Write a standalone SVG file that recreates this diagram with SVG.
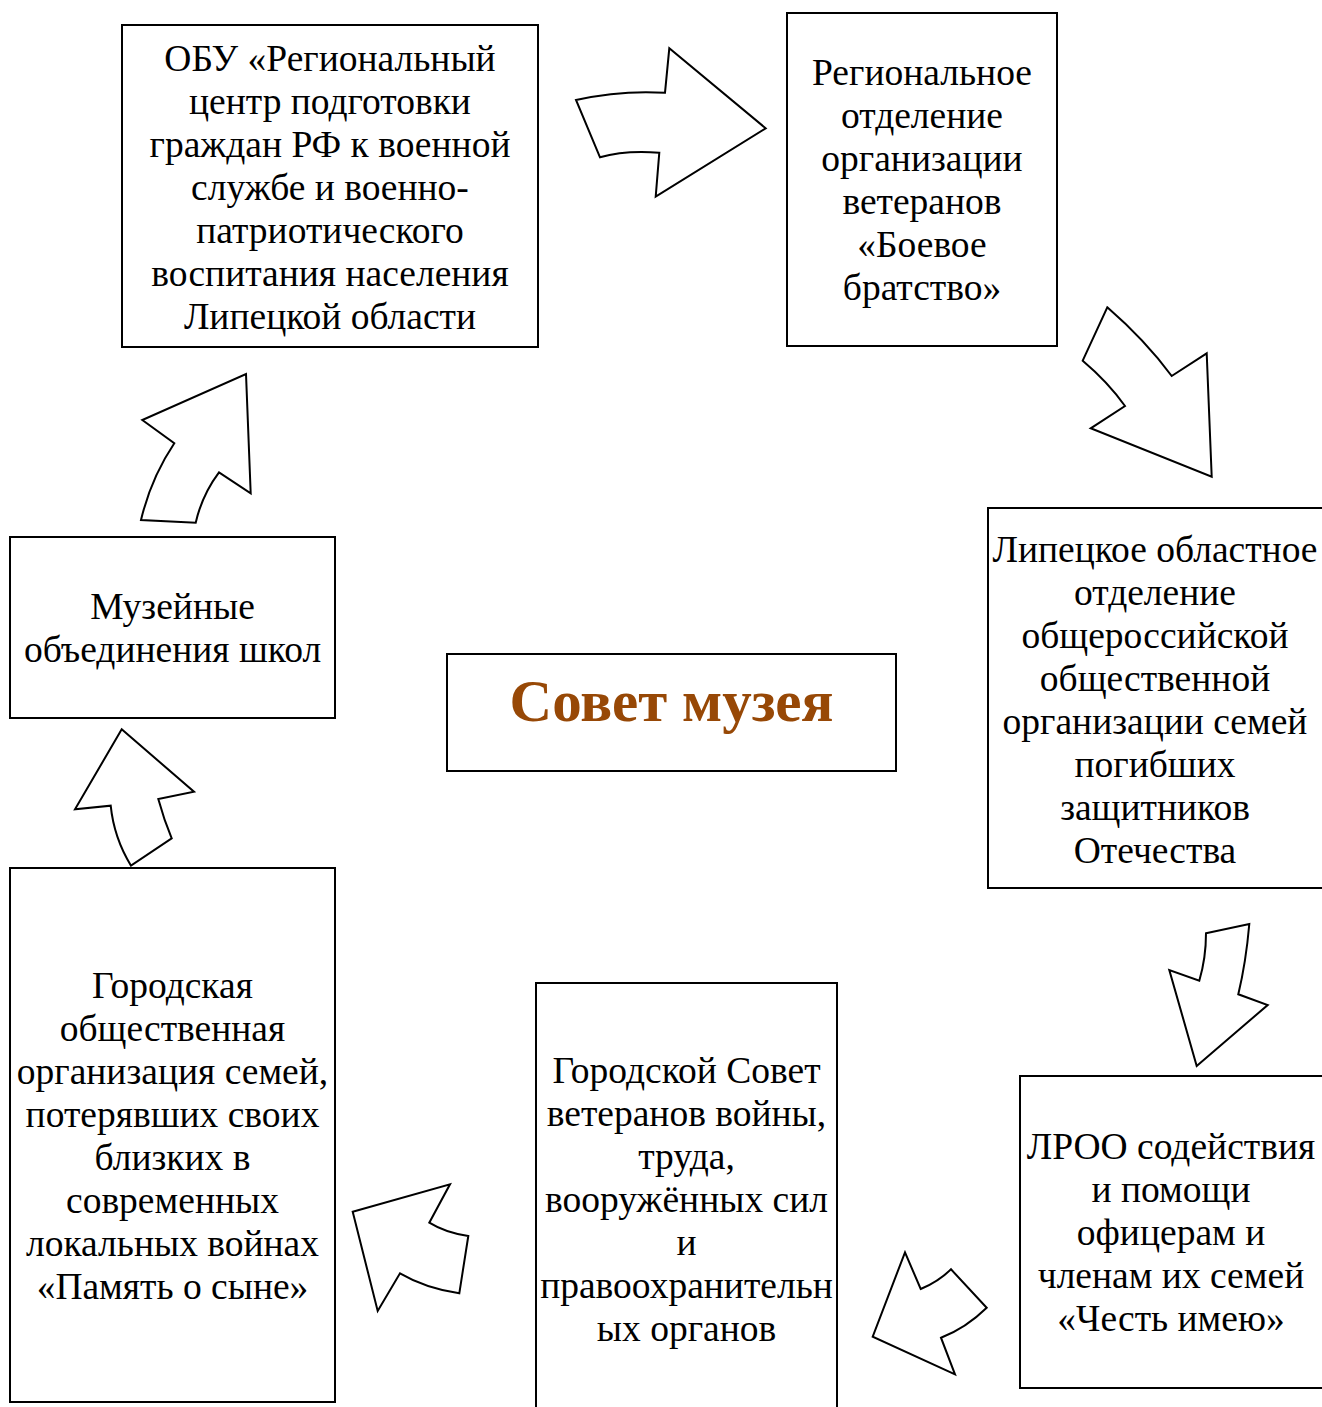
<svg xmlns="http://www.w3.org/2000/svg" width="1322" height="1407" viewBox="0 0 1322 1407">
<style>
.box{fill:#fff;stroke:#000;stroke-width:2}
.t{font-family:"Liberation Serif","Times New Roman",serif;font-size:37.5px;fill:#000;text-anchor:middle}
.title{font-family:"Liberation Serif","Times New Roman",serif;font-size:59px;font-weight:bold;fill:#974806;text-anchor:middle}
.arr{fill:#fff;stroke:#000;stroke-width:2;stroke-linejoin:miter}
</style>
<rect width="1322" height="1407" fill="#fff"/>
<g id="n1">
<rect class="box" x="122" y="25" width="416" height="322"/>
<text class="t"><tspan x="330" y="71">ОБУ «Региональный</tspan><tspan x="330" y="114">центр подготовки</tspan><tspan x="330" y="157">граждан РФ к военной</tspan><tspan x="330" y="200">службе и военно-</tspan><tspan x="330" y="243">патриотического</tspan><tspan x="330" y="286">воспитания населения</tspan><tspan x="330" y="329">Липецкой области</tspan></text>
</g>
<g id="n2">
<rect class="box" x="787" y="13" width="270" height="333"/>
<text class="t"><tspan x="922" y="85">Региональное</tspan><tspan x="922" y="128">отделение</tspan><tspan x="922" y="171">организации</tspan><tspan x="922" y="214">ветеранов</tspan><tspan x="922" y="257">«Боевое</tspan><tspan x="922" y="300">братство»</tspan></text>
</g>
<g id="n3">
<rect class="box" x="988" y="508" width="336" height="380"/>
<text class="t"><tspan x="1155" y="562">Липецкое областное</tspan><tspan x="1155" y="605">отделение</tspan><tspan x="1155" y="648">общероссийской</tspan><tspan x="1155" y="691">общественной</tspan><tspan x="1155" y="734">организации семей</tspan><tspan x="1155" y="777">погибших</tspan><tspan x="1155" y="820">защитников</tspan><tspan x="1155" y="863">Отечества</tspan></text>
</g>
<g id="n4">
<rect class="box" x="1020" y="1076" width="304" height="312"/>
<text class="t"><tspan x="1171" y="1159">ЛРОО содействия</tspan><tspan x="1171" y="1202">и помощи</tspan><tspan x="1171" y="1245">офицерам и</tspan><tspan x="1171" y="1288">членам их семей</tspan><tspan x="1171" y="1331">«Честь имею»</tspan></text>
</g>
<g id="n5">
<rect class="box" x="536" y="983" width="301" height="430"/>
<text class="t"><tspan x="686.5" y="1083">Городской Совет</tspan><tspan x="686.5" y="1126">ветеранов войны,</tspan><tspan x="686.5" y="1169">труда,</tspan><tspan x="686.5" y="1212">вооружённых сил</tspan><tspan x="686.5" y="1255">и</tspan><tspan x="686.5" y="1298">правоохранительн</tspan><tspan x="686.5" y="1341">ых органов</tspan></text>
</g>
<g id="n6">
<rect class="box" x="10" y="868" width="325" height="534"/>
<text class="t"><tspan x="172.5" y="998">Городская</tspan><tspan x="172.5" y="1041">общественная</tspan><tspan x="172.5" y="1084">организация семей,</tspan><tspan x="172.5" y="1127">потерявших своих</tspan><tspan x="172.5" y="1170">близких в</tspan><tspan x="172.5" y="1213">современных</tspan><tspan x="172.5" y="1256">локальных войнах</tspan><tspan x="172.5" y="1299">«Память о сыне»</tspan></text>
</g>
<g id="n7">
<rect class="box" x="10" y="537" width="325" height="181"/>
<text class="t"><tspan x="172.5" y="619">Музейные</tspan><tspan x="172.5" y="662">объединения школ</tspan></text>
</g>
<g id="n8">
<rect class="box" x="447" y="654" width="449" height="117"/>
<text class="title" x="671.5" y="721">Совет музея</text>
</g>
<g id="connectors">
<path class="arr" d="M576,100 Q620,90 665,92.7 L669.3,48.3 L765.7,128.3 L655.7,196.7 L659.3,152.7 Q625,150 600,157.3 Z"/>
<path class="arr" d="M1107.3,307.3 Q1145,340 1171.7,376 L1206.7,353.3 L1211.7,476.7 L1090.7,428.3 L1125,406 Q1108,382 1082.7,360.7 Z"/>
<path class="arr" d="M1206,933.3 L1249.3,924 Q1246,962 1238.3,994.3 L1267.7,1005 L1196.7,1066 L1169.3,970 L1199.3,980.7 Q1206,958 1206,933.3 Z"/>
<path class="arr" d="M905,1252.3 L920.7,1289 Q938,1282 951,1269.3 L986.7,1307.7 Q966,1328 941,1337.7 L955,1374.3 L872.7,1336.7 Z"/>
<path class="arr" d="M352.7,1211.7 L450,1184.3 L429.3,1222.7 Q446,1233 468.3,1236 L459.3,1293.3 Q425,1288 400,1273.3 L377.7,1311 Z"/>
<path class="arr" d="M121.7,729.3 L194,791.7 L158.3,799 Q164,820 171.7,838.3 L131,865.7 Q114,838 110.7,805.7 L75,809.3 Z"/>
<path class="arr" d="M246,374 L250.7,493.3 L219,472.3 Q202,495 195.7,522.7 L141,520 Q151,478 174.3,443.3 L142.3,420 Z"/>
</g>
</svg>
